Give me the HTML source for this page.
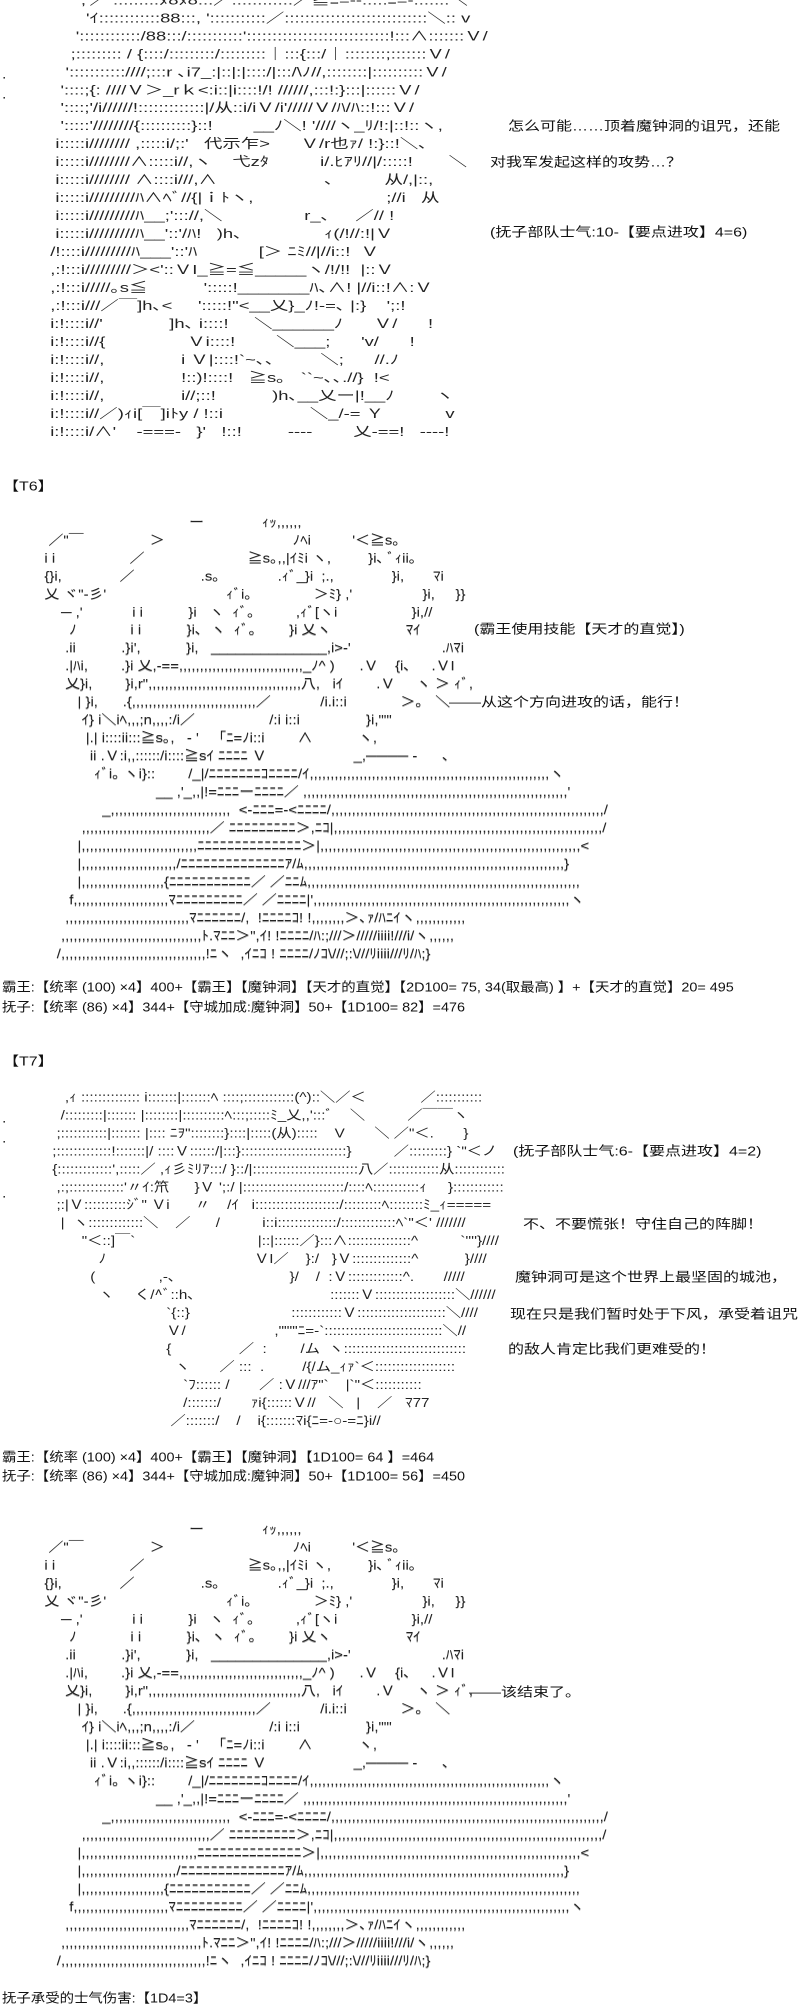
<!DOCTYPE html>
<html><head><meta charset="utf-8"><style>
html,body{margin:0;padding:0;background:#fff;}
body{width:800px;height:2000px;overflow:hidden;position:relative;color:#111;
font-family:"Liberation Sans","Noto Sans CJK SC",sans-serif;}
.t{position:absolute;white-space:pre;font-size:16px;line-height:18px;height:18px;transform:scaleY(0.82);transform-origin:center;}
.s{transform:scaleX(0.9) scaleY(0.82);transform-origin:left center;}
.aa{position:absolute;margin:0;white-space:pre;font-size:16px;line-height:22px;transform:scaleY(0.818);transform-origin:top left;
font-family:"Liberation Sans","Noto Sans CJK JP",sans-serif;color:#222;}
.a1{transform:scaleX(1.15) scaleY(0.818);}
.a2{transform:scaleX(0.93) scaleY(0.818);text-shadow:0 1px 0 #aaa;}
</style></head><body>

<pre class="aa a1" style="left:40px;top:-8px;">        ,'／ :::::::::ﾇ8ﾇ8:::／::::::::::::／≧ﾆ=‐-:::::ﾆ=-:::::::＼
         'ｲ::::::::::::88:::, ':::::::::::／::::::::::::::::::::::::::::＼:: v
       '::::::::::::/88:::/:::::::::::'::::::::::::::::::::::::::::!:::∧:::::::Ｖ/
      ;::::::::: / {::::/:::::::::/:::::::::｜:::{:::/｜::::::::;:::::::Ｖ/
     ':::::::::::////;:::r ､i7_:|::|:|::::/|:::/\ﾉ//,::::::::|::::::::::Ｖ/
    '::::;{: ////Ｖ＞_rｋ&lt;:i::|i::::!/! //////,:::!:}:::|::::::Ｖ/
    '::::;'/i//////!:::::::::::::|/从::i/iＶ/i'/////Ｖ/ﾊ/ﾊ::!:::Ｖ/
    ':::::'////////{::::::::::}::!        __ﾉ＼! '////ヽ_ﾘ/!:|::!::ヽ,
   i:::::i//////// ,:::::i/;:'   代示乍>      Ｖ/r也ｧ/ !:}::!＼､
   i:::::i////////∧:::::i//,ヽ    弋zﾀ          i/.ﾋｱﾘ//|/:::::!       ＼
   i:::::i//////// ∧::::i///,∧                     ､          从/,|::,
   i:::::i/////////ﾊ∧ﾍﾞ//{|ｉﾄヽ,                          ;//i   从
   i:::::i/////////ﾊ__;'::://,＼                r_､     ／// !
   i:::::i/////////ﾊ__'::'/ﾊ!   )h､                ｨ(/!//:!|Ｖ
  /!::::i/////////ﾊ___'::'ﾊ            [＞ ﾆﾐ//|//i::!  Ｖ
  ,:!:::i/////////＞&lt;'::ＶI_≧=≦_____ヽ/!/!!  |::Ｖ
  ,:!:::i/////｡s≦           ':::::!_______ﾊ､∧! |//i::!∧:Ｖ
  ,:!:::i///／￣]h､&lt;     ':::::!"&lt;__乂}_ﾉ!-=､ |:}    ';:!
  i:!::::i//'             ]h､ i::::!     ＼______ﾉ      Ｖ/      !
  i:!::::i//{                Ｖi::::!        ＼___;      'v/      !
  i:!::::i//,               i Ｖ|::::!`~､､         ＼;      //.ﾉ
  i:!::::i//,               !::)!::::!   ≧s｡   ``~､､.//}  !&lt;
  i:!::::i//,               i//;::!           )h､__乂ー|!__ﾉ        ヽ
  i:!::::i//／)ｨi[￣]iﾄy / !::i                 ＼_/-= Ｙ            v
  i:!::::i/∧'    -===-   }'   !::!         ----        乂-==!   ----!</pre>
<div class="t" style="left:2px;top:66px;">.</div>
<div class="t" style="left:2px;top:86px;">.</div>

<div class="t" style="left:508px;top:118px;">怎么可能……顶着魔钟洞的诅咒，还能</div>
<div class="t" style="left:490px;top:154px;">对我军发起这样的攻势…？</div>
<div class="t" style="left:490px;top:224px;">(抚子部队士气:10-【要点进攻】4=6)</div>

<div class="t" style="left:3px;top:478px;">【T6】</div>

<pre class="aa a2" style="left:32px;top:514px;">                                      ー              ｨｯ,,,,,,
    ／"￣                ＞                               ﾉﾍi          '＜≧s｡
   i i                  ／                         ≧s｡,,|ｲﾐi ヽ,         }i､ ﾞｨii｡
   {}i,              ／                .s｡              .ｨﾞ_}i  ;.,              }i,       ﾏi
   乂 ヾ"-彡'                             ｨﾞi｡               ＞ﾐ} ,'                 }i,     }}
       ─ ,'            i i           }i   ヽ  ｨﾞ｡          ,ｨﾞ[ヽi                  }i,//
         ﾉ             i i           }i､  ヽ  ｨﾞ｡        }i 乂ヽ                  ﾏｲ
        .ii           .}i',           }i,   ______________,i>-'                      .ﾊﾏi
        .|ﾊi,        .}i 乂,-==,,,,,,,,,,,,,,,,,,,,,,,,,,,,,,_ﾉ^ )      .Ｖ    {i､     .ＶI
        乂}i,        }i,r",,,,,,,,,,,,,,,,,,,,,,,,,,,,,,,,,,,,,八,   iｲ        .Ｖ     ヽ ＞ ｨﾞ,
           | }i,      .{,,,,,,,,,,,,,,,,,,,,,,,,,,,,,,／            /i.i::i             ＞｡   ＼
            ｲ} i＼iﾍ,,,;n,,,,:/i／                  /:i i::i                }i,""'
             |.| i::::ii:::≧s｡,   ‐ '   「ﾆ=ﾉi::i        ∧           ヽ,
              ii .Ｖ:i,,::::::/i::::≧sｲ ﾆﾆﾆﾆ Ｖ                     _,──── -      ､
               ｨﾞi｡ ヽi}::        /_|/ﾆﾆﾆﾆﾆﾆﾆｺﾆﾆﾆﾆ/ｲ,,,,,,,,,,,,,,,,,,,,,,,,,,,,,,,,,,,,,,,,,,,,,,,,,,,,,,,,,,ヽ
                              __ ,'_,,|!=ﾆﾆﾆーﾆﾆﾆﾆ／ ,,,,,,,,,,,,,,,,,,,,,,,,,,,,,,,,,,,,,,,,,,,,,,,,,,,,,,,,,,,,,,,,'
                 _,,,,,,,,,,,,,,,,,,,,,,,,,,,,,  &lt;-ﾆﾆﾆ=-&lt;ﾆﾆﾆﾆ/,,,,,,,,,,,,,,,,,,,,,,,,,,,,,,,,,,,,,,,,,,,,,,,,,,,,,,,,,,,,,,,,,,/
            ,,,,,,,,,,,,,,,,,,,,,,,,,,,,,,,／ ﾆﾆﾆﾆﾆﾆﾆﾆﾆ＞,ﾆｺ|,,,,,,,,,,,,,,,,,,,,,,,,,,,,,,,,,,,,,,,,,,,,,,,,,,,,,,,,,,,,,,,,,/
           |,,,,,,,,,,,,,,,,,,,,,,,,,,,,ﾆﾆﾆﾆﾆﾆﾆﾆﾆﾆﾆﾆﾆﾆ＞|,,,,,,,,,,,,,,,,,,,,,,,,,,,,,,,,,,,,,,,,,,,,,,,,,,,,,,,,,,,,,,,&lt;
           |,,,,,,,,,,,,,,,,,,,,,,,/ﾆﾆﾆﾆﾆﾆﾆﾆﾆﾆﾆﾆﾆﾆｱ/ﾑ,,,,,,,,,,,,,,,,,,,,,,,,,,,,,,,,,,,,,,,,,,,,,,,,,,,,,,,,,,,,,,,}
           |,,,,,,,,,,,,,,,,,,,,{ﾆﾆﾆﾆﾆﾆﾆﾆﾆﾆﾆ／ ／ﾆﾆﾑ,,,,,,,,,,,,,,,,,,,,,,,,,,,,,,,,,,,,,,,,,,,,,,,,,,,,,,,,,,,,,,,,,,
         f,,,,,,,,,,,,,,,,,,,,,,,ﾏﾆﾆﾆﾆﾆﾆﾆﾆﾆ／ ／ﾆﾆﾆﾆ|',,,,,,,,,,,,,,,,,,,,,,,,,,,,,,,,,,,,,,,,,,,,,,,,,,,,,,,,,,,,,,ヽ
        ,,,,,,,,,,,,,,,,,,,,,,,,,,,,,,ﾏﾆﾆﾆﾆﾆﾆ/,  !ﾆﾆﾆﾆｺ! !,,,,,,,,＞､ｧ/ﾊﾆｲヽ,,,,,,,,,,,,
       ,,,,,,,,,,,,,,,,,,,,,,,,,,,,,,,,,,ﾄ.ﾏﾆﾆ＞",ｲ! !ﾆﾆﾆﾆ/ﾊ:;///＞/////iiii!///i/ヽ,,,,,,
      /,,,,,,,,,,,,,,,,,,,,,,,,,,,,,,,,,,,!ﾆヽ  ,ｲﾆｺ ! ﾆﾆﾆﾆ/ﾉｺ\///;:\///ﾘiiii///ﾘ/ﾊ;}</pre>

<div class="t" style="left:474px;top:621px;">(霸王使用技能【天才的直觉】)</div>
<div class="t" style="left:449px;top:694px;">——从这个方向进攻的话，能行！</div>

<div class="t s" style="left:2px;top:979px;">霸王:【统率 (100) ×4】400+【霸王】【魔钟洞】【天才的直觉】【2D100= 75, 34(取最高) 】+【天才的直觉】20= 495</div>
<div class="t s" style="left:2px;top:999px;">抚子:【统率 (86) ×4】344+【守城加成:魔钟洞】50+【1D100= 82】=476</div>

<div class="t" style="left:3px;top:1053px;">【T7】</div>

<pre class="aa" style="left:48px;top:1089px;transform:scaleX(0.95) scaleY(0.818);">    ,ｨ :::::::::::::: i:::::::|:::::::ﾍ ::::;::::::::::::(^)::＼／＜             ／:::::::::::
   /:::::::::|::::::: |::::::::|::::::::::ﾍ:::;:::::ﾐ_乂,,':::ﾞ    ＼          ／￣￣ヽ
  ;:::::::::::|::::::: |:::: ﾆｦ"::::::::}::::|:::::(从):::::    V       ＼ ／"＜.       }
 ;:::::::::::::!:::::::|/ ::::Ｖ::::::/|:::}:::::::::::::::::::::::::}          ／:::::::::} `"＜ノ
 {:::::::::::::',:::::／ ,ｨ彡ﾐﾘｱ:::/ }::/|:::::::::::::::::::::::::八／::::::::::::从::::::::::::
  ,:;:::::::::::::'〃ｲ:笊      }Ｖ ';:/ |::::::::::::::::::::::::/::::ﾍ:::::::::::ｨ     }::::::::::::
  ;:|Ｖ::::::::::ｼﾞ" Ｖi      〃    /ｲ   i::::::::::::::::::::/:::::::::ﾍ::::::::ﾐ_ｨ=====
   |  ヽ:::::::::::::＼    ／      /          i::i::::::::::::::/:::::::::::::ﾍ`"＜' ///////
        "＜::]￣`                             |::|::::::／}:::∧:::::::::::::::^          `''''}////
            ﾉ                                   ＶI／    }:/   }Ｖ::::::::::::::^           }////
          (               ,-､                           }/    /  :Ｖ:::::::::::::^.       /////
            ヽ     く/^ﾞ::h､                                :::::::Ｖ:::::::::::::::::::＼//////
                            `{::}                        ::::::::::::Ｖ:::::::::::::::::::::＼////
                            Ｖ/                     ,""'"ﾆ=-`::::::::::::::::::::::::::::＼//
                            {                ／  :        /ム  ヽ:::::::::::::::::::::::::::::
                              ヽ       ／ :::  .         /{/ム_ｨｧ`＜:::::::::::::::::::
                                `ﾌ:::::: /       ／ :Ｖ///ｱ"`    |`"＜:::::::::::
                                /:::::::/       ｧi{::::::Ｖ//   ＼   |    ／   ﾏ77
                             ／:::::::/    /    i{:::::::ﾏi{ﾆ=-○-=ﾆ}i//</pre>
<div class="t" style="left:2px;top:1110px;">.</div>
<div class="t" style="left:2px;top:1130px;">.</div>
<div class="t" style="left:2px;top:1185px;">.</div>

<div class="t" style="left:513px;top:1143px;">(抚子部队士气:6-【要点进攻】4=2)</div>
<div class="t" style="left:523px;top:1216px;">不、不要慌张！守住自己的阵脚！</div>
<div class="t" style="left:515px;top:1269px;">魔钟洞可是这个世界上最坚固的城池，</div>
<div class="t" style="left:510px;top:1306px;">现在只是我们暂时处于下风，承受着诅咒</div>
<div class="t" style="left:508px;top:1341px;">的敌人肯定比我们更难受的！</div>

<div class="t s" style="left:2px;top:1449px;">霸王:【统率 (100) ×4】400+【霸王】【魔钟洞】【1D100= 64 】=464</div>
<div class="t s" style="left:2px;top:1468px;">抚子:【统率 (86) ×4】344+【守城加成:魔钟洞】50+【1D100= 56】=450</div>

<pre class="aa a2" style="left:32px;top:1521px;">                                      ー              ｨｯ,,,,,,
    ／"￣                ＞                               ﾉﾍi          '＜≧s｡
   i i                  ／                         ≧s｡,,|ｲﾐi ヽ,         }i､ ﾞｨii｡
   {}i,              ／                .s｡              .ｨﾞ_}i  ;.,              }i,       ﾏi
   乂 ヾ"-彡'                             ｨﾞi｡               ＞ﾐ} ,'                 }i,     }}
       ─ ,'            i i           }i   ヽ  ｨﾞ｡          ,ｨﾞ[ヽi                  }i,//
         ﾉ             i i           }i､  ヽ  ｨﾞ｡        }i 乂ヽ                  ﾏｲ
        .ii           .}i',           }i,   ______________,i>-'                      .ﾊﾏi
        .|ﾊi,        .}i 乂,-==,,,,,,,,,,,,,,,,,,,,,,,,,,,,,,_ﾉ^ )      .Ｖ    {i､     .ＶI
        乂}i,        }i,r",,,,,,,,,,,,,,,,,,,,,,,,,,,,,,,,,,,,,八,   iｲ        .Ｖ     ヽ ＞ ｨﾞ,
           | }i,      .{,,,,,,,,,,,,,,,,,,,,,,,,,,,,,,／            /i.i::i             ＞｡   ＼
            ｲ} i＼iﾍ,,,;n,,,,:/i／                  /:i i::i                }i,""'
             |.| i::::ii:::≧s｡,   ‐ '   「ﾆ=ﾉi::i        ∧           ヽ,
              ii .Ｖ:i,,::::::/i::::≧sｲ ﾆﾆﾆﾆ Ｖ                     _,──── -      ､
               ｨﾞi｡ ヽi}::        /_|/ﾆﾆﾆﾆﾆﾆﾆｺﾆﾆﾆﾆ/ｲ,,,,,,,,,,,,,,,,,,,,,,,,,,,,,,,,,,,,,,,,,,,,,,,,,,,,,,,,,,ヽ
                              __ ,'_,,|!=ﾆﾆﾆーﾆﾆﾆﾆ／ ,,,,,,,,,,,,,,,,,,,,,,,,,,,,,,,,,,,,,,,,,,,,,,,,,,,,,,,,,,,,,,,,'
                 _,,,,,,,,,,,,,,,,,,,,,,,,,,,,,  &lt;-ﾆﾆﾆ=-&lt;ﾆﾆﾆﾆ/,,,,,,,,,,,,,,,,,,,,,,,,,,,,,,,,,,,,,,,,,,,,,,,,,,,,,,,,,,,,,,,,,,/
            ,,,,,,,,,,,,,,,,,,,,,,,,,,,,,,,／ ﾆﾆﾆﾆﾆﾆﾆﾆﾆ＞,ﾆｺ|,,,,,,,,,,,,,,,,,,,,,,,,,,,,,,,,,,,,,,,,,,,,,,,,,,,,,,,,,,,,,,,,,/
           |,,,,,,,,,,,,,,,,,,,,,,,,,,,,ﾆﾆﾆﾆﾆﾆﾆﾆﾆﾆﾆﾆﾆﾆ＞|,,,,,,,,,,,,,,,,,,,,,,,,,,,,,,,,,,,,,,,,,,,,,,,,,,,,,,,,,,,,,,,&lt;
           |,,,,,,,,,,,,,,,,,,,,,,,/ﾆﾆﾆﾆﾆﾆﾆﾆﾆﾆﾆﾆﾆﾆｱ/ﾑ,,,,,,,,,,,,,,,,,,,,,,,,,,,,,,,,,,,,,,,,,,,,,,,,,,,,,,,,,,,,,,,}
           |,,,,,,,,,,,,,,,,,,,,{ﾆﾆﾆﾆﾆﾆﾆﾆﾆﾆﾆ／ ／ﾆﾆﾑ,,,,,,,,,,,,,,,,,,,,,,,,,,,,,,,,,,,,,,,,,,,,,,,,,,,,,,,,,,,,,,,,,,
         f,,,,,,,,,,,,,,,,,,,,,,,ﾏﾆﾆﾆﾆﾆﾆﾆﾆﾆ／ ／ﾆﾆﾆﾆ|',,,,,,,,,,,,,,,,,,,,,,,,,,,,,,,,,,,,,,,,,,,,,,,,,,,,,,,,,,,,,,ヽ
        ,,,,,,,,,,,,,,,,,,,,,,,,,,,,,,ﾏﾆﾆﾆﾆﾆﾆ/,  !ﾆﾆﾆﾆｺ! !,,,,,,,,＞､ｧ/ﾊﾆｲヽ,,,,,,,,,,,,
       ,,,,,,,,,,,,,,,,,,,,,,,,,,,,,,,,,,ﾄ.ﾏﾆﾆ＞",ｲ! !ﾆﾆﾆﾆ/ﾊ:;///＞/////iiii!///i/ヽ,,,,,,
      /,,,,,,,,,,,,,,,,,,,,,,,,,,,,,,,,,,,!ﾆヽ  ,ｲﾆｺ ! ﾆﾆﾆﾆ/ﾉｺ\///;:\///ﾘiiii///ﾘ/ﾊ;}</pre>

<div class="t" style="left:469px;top:1684px;">——该结束了。</div>

<div class="t s" style="left:2px;top:1990px;">抚子承受的士气伤害:【1D4=3】</div>

</body></html>
